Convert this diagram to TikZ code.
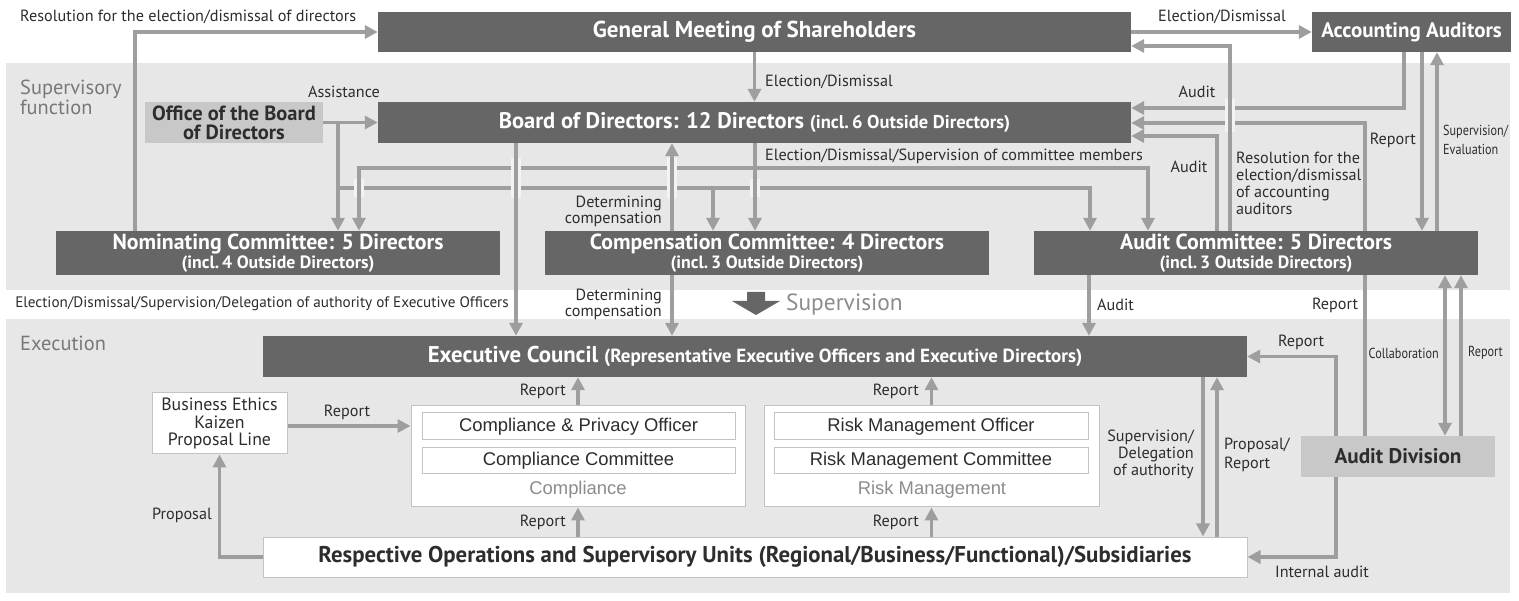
\documentclass[tikz,border=0pt]{standalone}
\usepackage{fontspec}
\setmainfont{PT Sans}
\newfontfamily\arialf{Liberation Sans}
\newfontfamily\condf[FakeStretch=0.84]{PT Sans}
\usetikzlibrary{arrows.meta}
\definecolor{darkbox}{RGB}{102,102,102}
\definecolor{bandc}{RGB}{231,231,231}
\definecolor{arrc}{RGB}{158,158,158}
\definecolor{lightbox}{RGB}{200,200,200}
\definecolor{txt}{RGB}{45,45,45}
\definecolor{secc}{RGB}{120,120,120}
\definecolor{softc}{RGB}{140,140,140}
\definecolor{borderc}{RGB}{195,195,195}
\definecolor{haloc}{RGB}{243,243,243}
\pgfdeclarelayer{bg}
\pgfsetlayers{bg,main}
\begin{document}
\begin{tikzpicture}[x=1pt,y=-1pt,
  dbox/.style={fill=darkbox,text=white,font=\bfseries,inner sep=0pt,align=center},
  lbox/.style={fill=lightbox,text=txt,font=\bfseries,inner sep=0pt,align=center},
  wbox/.style={fill=white,draw=borderc,line width=1pt,inner sep=0pt,align=center},
  arr/.style={draw=arrc,line width=3.6pt,-{Triangle[length=13pt,width=13pt]}},
  dblarr/.style={draw=arrc,line width=3.6pt,{Triangle[length=13pt,width=13pt]}-{Triangle[length=13pt,width=13pt]}},
  halo/.style={draw=haloc,line width=10pt},
  lab/.style={text=txt,font=\fontsize{16.2}{18}\selectfont,inner sep=0pt},
  clab/.style={text=txt,font=\condf\fontsize{14.5}{19}\selectfont,inner sep=0pt},
  sect/.style={text=secc,font=\fontsize{20.4}{20}\selectfont,inner sep=0pt,align=left},
  cmt/.style={dbox,minimum width=444pt,minimum height=44pt,font=\bfseries\fontsize{21.8}{19}\selectfont},
]
% ---------- background ----------
\begin{pgfonlayer}{bg}
\fill[white] (0,0) rectangle (1519,601);
\fill[bandc] (6,63) rectangle (1510,290);
\fill[bandc] (6,319) rectangle (1510,593);
\end{pgfonlayer}
\useasboundingbox (0,0) rectangle (1519,601);

% ---------- column / row coordinates ----------
\foreach \xx in {135,338,359,516,672,713,755,1089,1090,1148,1203,1217,1230,1336,1365,1404,1422,1437,1445,1461}
  {\coordinate (x\xx) at (\xx,0);}
\foreach \yy in {46,108,123,136,168,188,426}
  {\coordinate (y\yy) at (0,\yy);}

% ---------- nodes ----------
\node[dbox,minimum width=753pt,minimum height=40pt,font=\bfseries\fontsize{23}{24}\selectfont] (gm) at (754.5,32) {General Meeting of Shareholders};
\node[dbox,minimum width=199pt,minimum height=40pt,font=\bfseries\fontsize{21}{24}\selectfont] (aa) at (1411.5,32) {Accounting Auditors};
\node[dbox,minimum width=753pt,minimum height=41pt,font=\bfseries\fontsize{22.5}{24}\selectfont] (board) at (754.5,122.5) {Board of Directors: 12 Directors {\fontsize{18.5}{20}\selectfont (incl.\,6 Outside Directors)}};
\node[lbox,minimum width=178pt,minimum height=41pt,font=\bfseries\fontsize{20.5}{19}\selectfont] (office) at (234,122.5) {Office of the Board\\of Directors};
\node[cmt] (nom) at (278,253) {Nominating Committee: 5 Directors\\{\fontsize{17.8}{19}\selectfont (incl.\,4 Outside Directors)}};
\node[cmt] (comp) at (767,253) {Compensation Committee: 4 Directors\\{\fontsize{17.8}{19}\selectfont (incl.\,3 Outside Directors)}};
\node[cmt] (audc) at (1256,253) {Audit Committee: 5 Directors\\{\fontsize{17.8}{19}\selectfont (incl.\,3 Outside Directors)}};
\node[dbox,minimum width=984pt,minimum height=41pt,font=\bfseries\fontsize{22.8}{24}\selectfont] (exec) at (755,356.5) {Executive Council {\fontsize{19}{20}\selectfont (Representative Executive Officers and Executive Directors)}};
\node[wbox,minimum width=135pt,minimum height=61pt,text=txt,font=\fontsize{17.8}{17.5}\selectfont] (bizeth) at (219.5,423.5) {Business Ethics\\Kaizen\\Proposal Line};
\node[wbox,minimum width=334pt,minimum height=101pt] (compl) at (578,456.5) {};
\node[wbox,minimum width=313pt,minimum height=27pt,text=txt,font=\arialf\fontsize{18.4}{20}\selectfont] (cpo) at (578.5,426.5) {Compliance \& Privacy Officer};
\node[wbox,minimum width=313pt,minimum height=26pt,text=txt,font=\arialf\fontsize{18.4}{20}\selectfont] (ccom) at (578.5,461) {Compliance Committee};
\node[text=softc,font=\arialf\fontsize{18.4}{20}\selectfont,inner sep=0pt] (compt) at (578,490) {Compliance};
\node[wbox,minimum width=335pt,minimum height=101pt] (risk) at (931.5,456.5) {};
\node[wbox,minimum width=314pt,minimum height=27pt,text=txt,font=\arialf\fontsize{18.4}{20}\selectfont] (rmo) at (931,426.5) {Risk Management Officer};
\node[wbox,minimum width=314pt,minimum height=26pt,text=txt,font=\arialf\fontsize{18.4}{20}\selectfont] (rmc) at (931,461) {Risk Management Committee};
\node[text=softc,font=\arialf\fontsize{18.4}{20}\selectfont,inner sep=0pt] (riskt) at (932,490) {Risk Management};
\node[wbox,minimum width=984pt,minimum height=40pt,text=txt,font=\bfseries\fontsize{22.8}{24}\selectfont] (ops) at (755,557) {Respective Operations and Supervisory Units (Regional/\allowbreak Business/\allowbreak Functional)/\allowbreak Subsidiaries};
\node[lbox,minimum width=194pt,minimum height=41pt,font=\bfseries\fontsize{21.2}{24}\selectfont] (auddiv) at (1398,456.5) {Audit Division};

% ---------- section labels ----------
\node[sect,anchor=north west] (secsup) at (20,80) {Supervisory\\function};
\node[sect,anchor=west] (secexe) at (20,343) {Execution};
\fill[darkbox] (747,292) -- (765,292) -- (765,301) -- (780,301) -- (756,315) -- (732,301) -- (747,301) -- cycle;
\node[anchor=west,text=softc,font=\fontsize{23.4}{26}\selectfont,inner sep=0pt] (supv) at (786,305) {Supervision};

% ---------- connectors: top ----------
\draw[arr] (nom.north -| x135) |- (gm.west);
\node[lab,anchor=west] (l1) at (20,17) {Resolution for the election/dismissal of directors};
\draw[arr] (gm.east) -- (aa.west);
\node[lab] (l2) at (1222,17) {Election/Dismissal};
\draw[arr] (gm.south) -- (board.north);
\node[lab,anchor=west] (l3) at (765,82) {Election/Dismissal};
\draw[arr] (office.east) -- (board.west);
\node[lab] (l4) at (344,92) {Assistance};

% Accounting auditors / audit committee side
\draw[arr] (aa.south -| x1404) |- (board.east |- y108);
\node[lab] (l5) at (1197,92) {Audit};
\begin{pgfonlayer}{bg}
\draw[arr] (auddiv.north -| x1365) |- (board.east |- y123);
\end{pgfonlayer}
\node[lab] (l6) at (1335,305) {Report};
\draw[arr] (audc.north -| x1217) |- (board.east |- y136);
\node[lab] (l7) at (1189,167) {Audit};
\draw[halo] (x1230 |- 0,99) -- (x1230 |- 0,132);
\draw[arr] (audc.north -| x1230) |- (gm.east |- y46);
\node[lab,anchor=north west,align=left,font=\fontsize{16.2}{17}\selectfont] (l8) at (1236,152) {Resolution for the\\election/dismissal\\of accounting\\auditors};
\draw[arr] (aa.south -| x1422) -- (audc.north -| x1422);
\node[lab,anchor=east] (l9) at (1416,140) {Report};
\draw[arr] (audc.north -| x1437) -- (aa.south -| x1437);
\node[clab,anchor=west,align=left] (l10) at (1443,140) {Supervision/\\Evaluation};

% committee distribution lines
\draw[arr] (office.east -| x338) -- (nom.north -| x338);
\draw[arr] (x338 |- y188) -| (audc.north -| x1090);
\draw[arr] (x713 |- y188) -- (comp.north -| x713);
\draw[halo] (x359 |- 0,179) -- (x359 |- 0,197);
\draw[arr] (x755 |- y168) -| (nom.north -| x359);
\draw[arr] (x755 |- y168) -| (audc.north -| x1148);
\draw[halo] (x755 |- 0,179) -- (x755 |- 0,197);
\draw[arr] (board.south -| x755) -- (comp.north -| x755);
\node[lab,anchor=west] (l11) at (765,156) {Election/Dismissal/Supervision of committee members};
\draw[halo] (x516 |- 0,158) -- (x516 |- 0,198);
\draw[arr] (board.south -| x516) -- (exec.north -| x516);
\node[lab,anchor=east,font=\fontsize{15.2}{18}\selectfont] (l12) at (509,304) {Election/Dismissal/Supervision/Delegation of authority of Executive Officers};
\draw[halo] (x672 |- 0,158) -- (x672 |- 0,198);
\draw[arr] (comp.north -| x672) -- (board.south -| x672);
\node[lab,anchor=east,align=right,font=\fontsize{16.2}{16}\selectfont] (l13) at (662,211) {Determining\\compensation};
\draw[arr] (comp.south -| x672) -- (exec.north -| x672);
\node[lab,anchor=east,align=right,font=\fontsize{16.2}{14}\selectfont] (l14) at (662,304) {Determining\\compensation};
\draw[arr] (audc.south -| x1089) -- (exec.north -| x1089);
\node[lab,anchor=west] (l15) at (1097,305) {Audit};

% audit division
\draw[dblarr] (auddiv.north -| x1445) -- (audc.south -| x1445);
\node[clab,anchor=east] (l16) at (1439,353) {Collaboration};
\draw[arr] (auddiv.north -| x1461) -- (audc.south -| x1461);
\node[clab,anchor=west] (l17) at (1468,353) {Report};
\draw[arr] (auddiv.north -| x1336) |- (exec.east);
\node[lab] (l18) at (1301,342) {Report};
\draw[arr] (auddiv.south -| x1336) |- (ops.east);
\node[lab] (l19) at (1322,572) {Internal audit};

% execution
\draw[arr] (exec.south -| x1203) -- (ops.north -| x1203);
\node[lab,anchor=east,align=right,font=\fontsize{16.2}{17}\selectfont] (l20) at (1194,454) {Supervision/\\Delegation\\of authority};
\draw[arr] (ops.north -| x1217) -- (exec.south -| x1217);
\node[lab,anchor=west,align=left,font=\fontsize{16.2}{19}\selectfont] (l21) at (1224,455) {Proposal/\\Report};
\draw[arr] (compl.north) -- (exec.south -| compl.north);
\node[lab,anchor=east] (l22) at (566,391) {Report};
\draw[arr] (ops.north -| compl.south) -- (compl.south);
\node[lab,anchor=east] (l23) at (566,522) {Report};
\draw[arr] (risk.north) -- (exec.south -| risk.north);
\node[lab,anchor=east] (l24) at (919,391) {Report};
\draw[arr] (ops.north -| risk.south) -- (risk.south);
\node[lab,anchor=east] (l25) at (919,522) {Report};
\draw[arr] (bizeth.east |- y426) -- (compl.west |- y426);
\node[lab] (l26) at (347,412) {Report};
\draw[arr] (ops.west) -| (bizeth.south);
\node[lab,anchor=east] (l27) at (212,515) {Proposal};
\end{tikzpicture}
\end{document}
